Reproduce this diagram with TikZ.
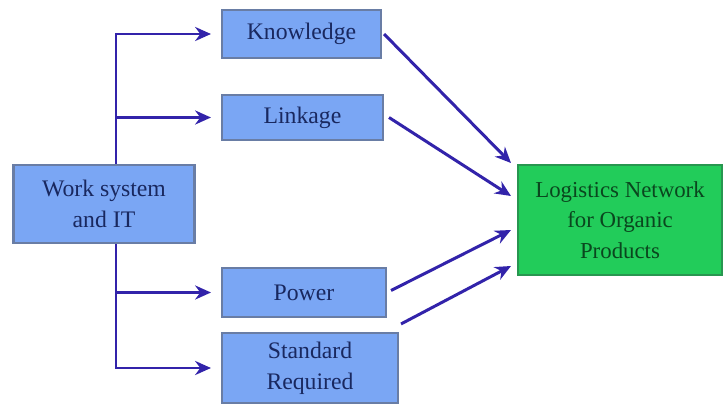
\documentclass[tikz,border=0pt]{standalone}
\usepackage{fontspec}
\setmainfont{Liberation Serif}
\usetikzlibrary{arrows.meta}
\definecolor{boxblue}{RGB}{122,166,244}
\definecolor{boxedge}{RGB}{105,125,165}
\definecolor{boxgreen}{RGB}{34,204,90}
\definecolor{greenedge}{RGB}{40,150,80}
\definecolor{arrowblue}{RGB}{50,35,170}
\definecolor{txtblue}{RGB}{25,40,95}
\definecolor{txtgreen}{RGB}{10,70,30}
\tikzset{
  bluebox/.style={draw=boxedge, line width=1.2pt, fill=boxblue, text=txtblue, align=center,
    font=\fontsize{13.5}{17.5}\selectfont, inner sep=2pt},
  greenbox/.style={draw=greenedge, line width=1.2pt, fill=boxgreen, text=txtgreen, align=center,
    font=\fontsize{13}{17.5}\selectfont, inner sep=2pt},
  arr/.style={draw=arrowblue, line width=1.7pt, -{Stealth[length=9pt,width=8pt]}},
}
\begin{document}
\begin{tikzpicture}[x=0.02cm,y=-0.02cm]
\useasboundingbox[fill=white] (0,0) rectangle (725,406);
\node[bluebox, minimum width=3.62cm, minimum height=1.56cm] (work) at (104,204) {Work system\\and IT};
\node[bluebox, minimum width=3.18cm, minimum height=0.96cm] (know) at (301.5,34) {Knowledge};
\node[bluebox, minimum width=3.22cm, minimum height=0.90cm] (link) at (302.5,117.5) {Linkage};
\node[bluebox, minimum width=3.28cm, minimum height=0.98cm] (power) at (304,292.5) {Power};
\node[bluebox, minimum width=3.52cm, minimum height=1.40cm] (std) at (310,368) {Standard\\Required};
\node[greenbox, minimum width=4.08cm, minimum height=2.20cm] (green) at (620,220) {Logistics Network\\for Organic\\Products};
% trunk arrows
\draw[arr, shorten >=0.2cm] ([xshift=0.24cm]work.north) |- (know.west);
\draw[arr, shorten >=0.2cm] ([xshift=0.24cm]work.north) |- (link.west);
\draw[arr, shorten >=0.2cm] ([xshift=0.24cm]work.south) |- (power.west);
\draw[arr, shorten >=0.2cm] ([xshift=0.24cm]work.south) |- (std.west);
% target points on green box
\coordinate (g1) at (511,163);
\coordinate (g2) at (511,196);
\coordinate (g3) at (511,230);
\coordinate (g4) at (511,266);
\draw[arr] ([xshift=0.04cm]know.east) -- (g1);
\draw[arr] ([xshift=0.1cm]link.east) -- (g2);
\draw[arr] ([xshift=0.08cm,yshift=0.04cm]power.east) -- (g3);
\draw[arr] ([xshift=0.04cm,yshift=0.16cm]std.north east) -- (g4);
\end{tikzpicture}
\end{document}
